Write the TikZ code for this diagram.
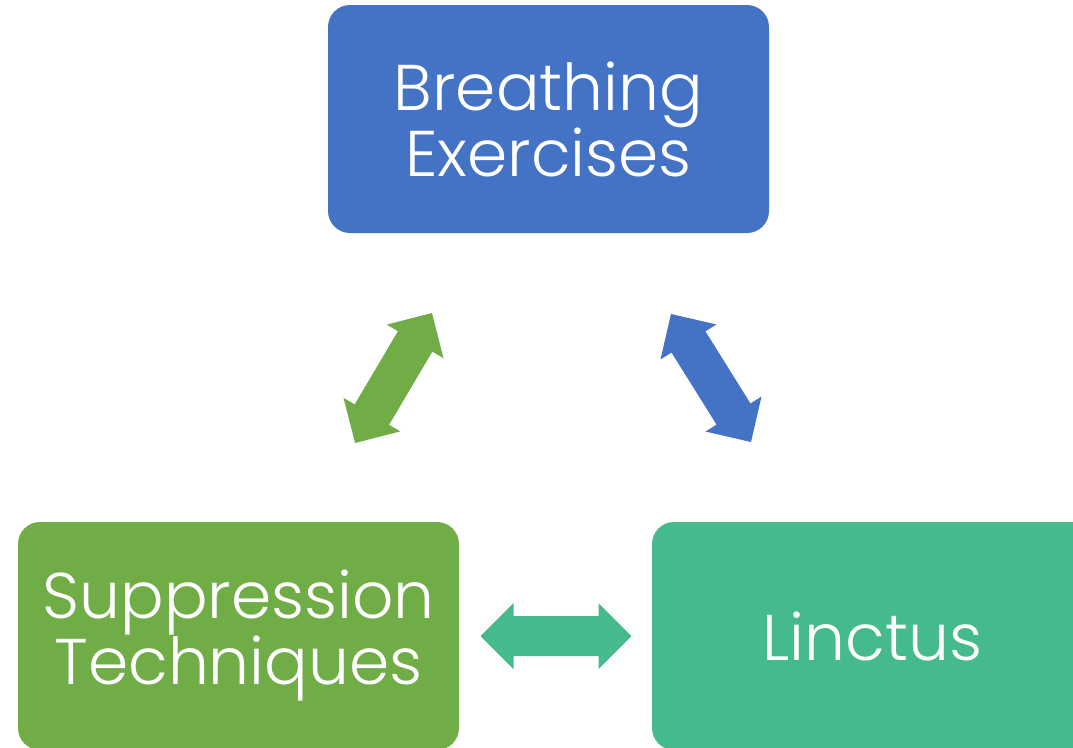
\documentclass[tikz,border=0pt]{standalone}
\usepackage{fontspec}
\setmainfont{Poppins}[UprightFont=* Light]
\definecolor{cblue}{HTML}{4472C4}
\definecolor{cgreen}{HTML}{70AD47}
\definecolor{cteal}{HTML}{45BB8D}
\tikzset{
  box/.style={rounded corners=16.5pt, minimum width=330.75pt, minimum height=171pt,
    inner sep=0pt, text=white, align=center, font=\fontsize{48.5}{49.5}\selectfont},
  dblarrow/.pic={\fill (-75.5,0) -- (-42.5,33) -- (-42.5,20) -- (42.5,20) -- (42.5,33)
     -- (75.5,0) -- (42.5,-33) -- (42.5,-20) -- (-42.5,-20) -- (-42.5,-33) -- cycle;}
}
\begin{document}
\begin{tikzpicture}[x=0.75pt,y=-0.75pt]
\useasboundingbox (0,0) rectangle (1073,747);
\clip (0,0) rectangle (1073,747);
\node[box, fill=cblue] (breath) at (548.5,119) {Breathing\\Exercises};
\node[box, fill=cgreen] (supp) at (238.5,636) {Suppression\\Techniques};
\node[box, fill=cteal] (linc) at (872.5,636) {Linctus};
\pic[fill=cgreen, rotate=59.4] (ga) at (393.5,378) {dblarrow};
\pic[fill=cblue, rotate=-58] (ba) at (711,378) {dblarrow};
\pic[fill=cteal] (ta) at (556,636) {dblarrow};
\end{tikzpicture}
\end{document}
